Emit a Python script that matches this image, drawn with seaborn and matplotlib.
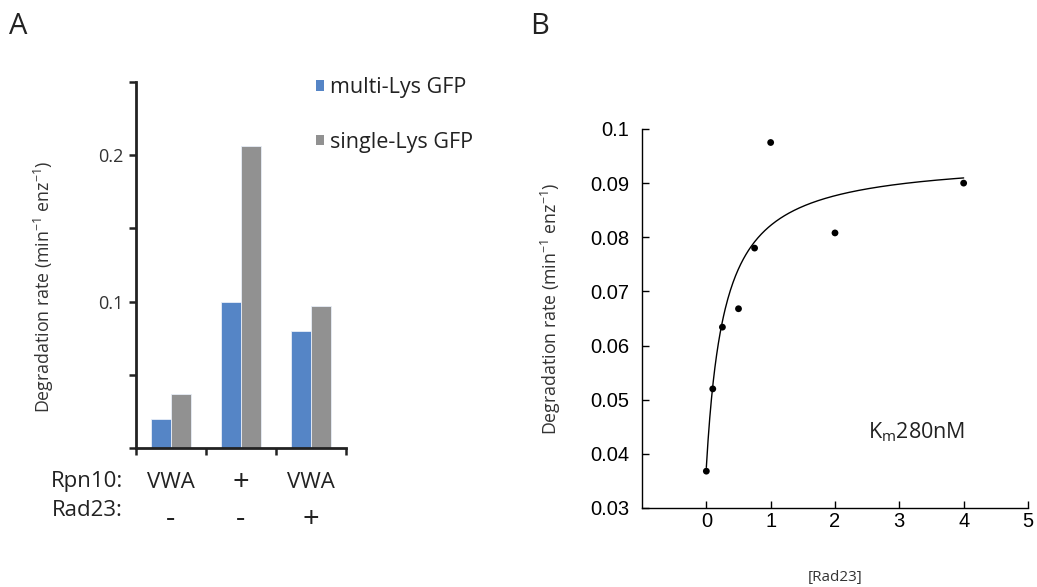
import numpy as np
import pandas as pd
import seaborn as sns
import matplotlib.pyplot as plt
from matplotlib.patches import Rectangle

# Panel A data
rpn10 = ["VWA", "+", "VWA"]
rad23 = ["-", "-", "+"]
multi_lys = [0.020, 0.100, 0.080]
single_lys = [0.037, 0.206, 0.097]
series_names = ["multi-Lys GFP", "single-Lys GFP"]
bar_colors = ["#5585c6", "#919191"]

# Panel B data
rad23_conc = [0.0, 0.1, 0.25, 0.5, 0.75, 1.0, 2.0, 4.0]
deg_rate = [0.0368, 0.0520, 0.0634, 0.0668, 0.0780, 0.0975, 0.0808, 0.0900]
# Michaelis-Menten fit parameters
fit_y0, fit_vmax, fit_km = 0.0375, 0.0572, 0.28

sns.set_theme(style="white")
plt.rcParams['font.family'] = ['Open Sans', 'DejaVu Sans']

fig = plt.figure(figsize=(10.37, 5.87), dpi=100)
ylab = r"Degradation rate (min$^{\mathregular{-1}}$ enz$^{\mathregular{-1}}$)"

# ---------------- Panel A ----------------
axA = fig.add_axes([0.1311, 0.2368, 0.2025, 0.6235])
cond = [f"{a}|{b}|{i}" for i, (a, b) in enumerate(zip(rpn10, rad23))]
dfA = pd.DataFrame({
    "cond": cond * 2,
    "rate": multi_lys + single_lys,
    "series": [series_names[0]] * 3 + [series_names[1]] * 3,
})
sns.barplot(data=dfA, x="cond", y="rate", hue="series", palette=bar_colors,
            width=0.58, saturation=1, edgecolor="#e8eef8", linewidth=0.6,
            ax=axA, legend=False)
axA.set_xlim(-0.5, 2.5)
axA.set_ylim(0, 0.25)
axA.set_yticks([0, 0.05, 0.1, 0.15, 0.2, 0.25])
axA.set_yticklabels(["", "", "0.1", "", "0.2", ""])
axA.set_xticks([-0.5, 0.5, 1.5, 2.5])
axA.set_xticklabels([])
axA.tick_params(axis="both", direction="out", length=5, width=1.8, color="#222222",
                labelsize=13, left=True, bottom=True, pad=4)
axA.tick_params(axis="y", labelcolor="#333333")
for s in ["top", "right"]:
    axA.spines[s].set_visible(False)
for s in ["left", "bottom"]:
    axA.spines[s].set_color("#222222")
    axA.spines[s].set_linewidth(2.0)
axA.set_xlabel("")
axA.set_ylabel(ylab, fontsize=12.8, color="#333333")
axA.yaxis.set_label_coords(-0.383, 0.44)

# condition labels under the bars (symbols drawn a bit larger, like the original)
for i in range(len(rpn10)):
    for lab, ypos in [(rpn10[i], -0.093), (rad23[i], -0.195)]:
        axA.text(i, ypos, lab, transform=axA.get_xaxis_transform(),
                 ha="center", va="center", fontsize=21 if len(lab) == 1 else 16,
                 color="#222222")
fig.text(0.1185, 1 - 482 / 587, "Rpn10:", ha="right", va="center", fontsize=16, color="#222222")
fig.text(0.1185, 1 - 510 / 587, "Rad23:", ha="right", va="center", fontsize=16, color="#222222")

handles = [Rectangle((0, 0), 1, 1, facecolor=c, edgecolor="none") for c in bar_colors]
axA.legend(handles, series_names, loc="center left", bbox_to_anchor=(0.286, 1 - 115 / 587),
           bbox_transform=fig.transFigure, frameon=False, fontsize=15.5,
           handlelength=0.38, handleheight=0.38, handletextpad=0.25,
           labelspacing=1.55, labelcolor="#222222")

# ---------------- Panel B ----------------
axB = fig.add_axes([0.6191, 0.1346, 0.3722, 0.6457])
dfB = pd.DataFrame({"conc": rad23_conc, "rate": deg_rate})
xfit = np.linspace(0, 4, 300)
yfit = fit_y0 + fit_vmax * xfit / (fit_km + xfit)
sns.lineplot(x=xfit, y=yfit, color="black", linewidth=1.0, ax=axB)
sns.scatterplot(data=dfB, x="conc", y="rate", color="black", s=24,
                edgecolor="none", ax=axB, zorder=3)
axB.set_xlim(-1, 5)
axB.set_ylim(0.03, 0.1)
axB.set_xticks([0, 1, 2, 3, 4, 5])
axB.set_xticklabels(["0", "1", "2", "3", "4", "5"])
axB.set_yticks([0.03, 0.04, 0.05, 0.06, 0.07, 0.08, 0.09, 0.1])
axB.set_yticklabels(["0.03", "0.04", "0.05", "0.06", "0.07", "0.08", "0.09", "0.1"])
axB.tick_params(axis="both", direction="in", length=5, width=1.0, color="black",
                labelsize=14.5, left=True, bottom=True, labelcolor="black")
for lab in axB.get_xticklabels() + axB.get_yticklabels():
    lab.set_family(["Liberation Sans", "DejaVu Sans"])
axB.tick_params(axis="y", pad=9)
axB.tick_params(axis="x", pad=3)
for s in ["top", "right"]:
    axB.spines[s].set_visible(False)
for s in ["left", "bottom"]:
    axB.spines[s].set_color("black")
    axB.spines[s].set_linewidth(1.0)
axB.set_xlabel("")
axB.set_ylabel(ylab, fontsize=12.8, color="#333333")
axB.yaxis.set_label_coords(-0.205, 0.525)
axB.text(2.51, 0.044, r"K$_{\mathregular{m}}$280nM", fontsize=15.5, color="#222222",
         ha="left", va="center")
fig.text(835 / 1037, 1 - 578 / 587, "[Rad23]", fontsize=11, color="#333333",
         ha="center", va="center")

# panel letters
fig.text(18 / 1037, 1 - 26 / 587, "A", fontsize=21, color="#222222", ha="center", va="center")
fig.text(540 / 1037, 1 - 26 / 587, "B", fontsize=21, color="#222222", ha="center", va="center")

fig.savefig("out.png", dpi=100)
